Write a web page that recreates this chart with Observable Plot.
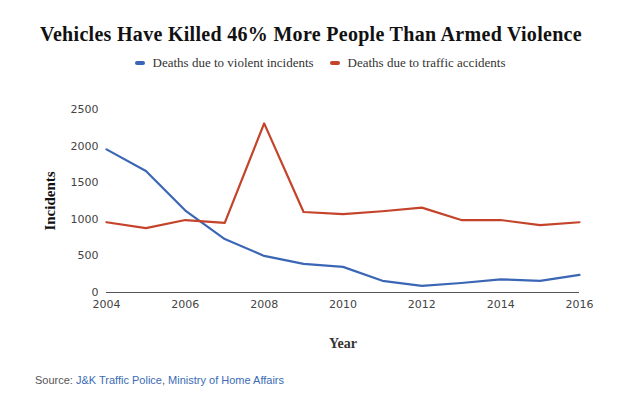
<!DOCTYPE html>
<html>
<head>
<meta charset="utf-8">
<script src="https://cdn.jsdelivr.net/npm/d3@7"></script>
<script src="https://cdn.jsdelivr.net/npm/@observablehq/plot@0.6"></script>
<style>
  html, body { margin: 0; padding: 0; background: #fff; }
  #wrap { width: 640px; }
  #title { font-family: "Liberation Serif", "DejaVu Serif", serif; font-weight: bold; font-size: 20px; color: #111; text-align: center; padding-top: 22px; padding-right: 18px; height: 24px; line-height: 24px; letter-spacing: 0.3px; }
  #legend { font-family: "Liberation Serif", "DejaVu Serif", serif; font-size: 13px; color: #333; text-align: center; height: 22px; line-height: 22px; margin-top: 6px; }
  #legend span.item { margin: 0 8px; }
  #legend span.sw { display: inline-block; width: 10px; height: 4px; border-radius: 2px; vertical-align: middle; margin-right: 8px; position: relative; top: -1px; }
  #chart { height: 270px; margin-top: 11px; }
  #chart svg { display: block; }
  #source { font-family: "Liberation Sans", Arial, sans-serif; font-size: 11px; color: #555; padding-left: 35px; margin-top: 19px; }
  #source span.l { color: #3b6bb5; }
</style>
</head>
<body>
<div id="wrap">
  <div id="title">Vehicles Have Killed 46% More People Than Armed Violence</div>
  <div id="legend"></div>
  <div id="chart"></div>
  <div id="source">Source: <span class="l">J&amp;K Traffic Police</span>, <span class="l">Ministry of Home Affairs</span></div>
</div>
<script>
const years = [2004, 2005, 2006, 2007, 2008, 2009, 2010, 2011, 2012, 2013, 2014, 2015, 2016];
const violent = [1955, 1660, 1120, 730, 500, 390, 350, 160, 90, 130, 180, 160, 240];
const traffic = [960, 880, 990, 950, 2310, 1100, 1070, 1110, 1160, 990, 990, 920, 960];
const seriesNames = ["Deaths due to violent incidents", "Deaths due to traffic accidents"];
const seriesColors = ["#3b66b5", "#c4432a"];
const xTicks = [2004, 2006, 2008, 2010, 2012, 2014, 2016];
const yTicks = [0, 500, 1000, 1500, 2000, 2500];

const data = [];
years.forEach((y, i) => {
  data.push({year: y, value: violent[i], series: seriesNames[0]});
  data.push({year: y, value: traffic[i], series: seriesNames[1]});
});

const legend = document.getElementById("legend");
seriesNames.forEach((n, i) => {
  const s = document.createElement("span");
  s.className = "item";
  s.innerHTML = `<span class="sw" style="background:${seriesColors[i]}"></span>${n}`;
  legend.appendChild(s);
});

const chart = Plot.plot({
  width: 640,
  height: 270,
  marginTop: 24,
  marginBottom: 63,
  marginLeft: 106,
  marginRight: 61,
  style: {fontFamily: "DejaVu Sans, Verdana, sans-serif", fontSize: "11px", color: "#444", background: "#fff"},
  x: {domain: [2004, 2016]},
  y: {domain: [0, 2500]},
  color: {domain: seriesNames, range: seriesColors},
  marks: [
    Plot.axisX({ticks: xTicks, tickFormat: d => String(d), tickSize: 0, tickPadding: 8, label: null, fontSize: 11}),
    Plot.axisY({ticks: yTicks, tickFormat: d => String(d), tickSize: 0, tickPadding: 8, label: null, fontSize: 11}),
    Plot.ruleY([0], {stroke: "#555", strokeWidth: 1.2}),
    Plot.line(data, {x: "year", y: "value", z: "series", stroke: "series", strokeWidth: 2.2}),
    Plot.text(["Year"], {frameAnchor: "bottom", dy: 55, fontFamily: "Liberation Serif, serif", fontWeight: "bold", fontSize: 14, fill: "#333"}),
    Plot.text(["Incidents"], {frameAnchor: "left", textAnchor: "middle", dx: -56, rotate: -90, fontFamily: "Liberation Serif, serif", fontWeight: "bold", fontSize: 15, fill: "#111"})
  ]
});
document.getElementById("chart").appendChild(chart);
</script>
</body>
</html>
